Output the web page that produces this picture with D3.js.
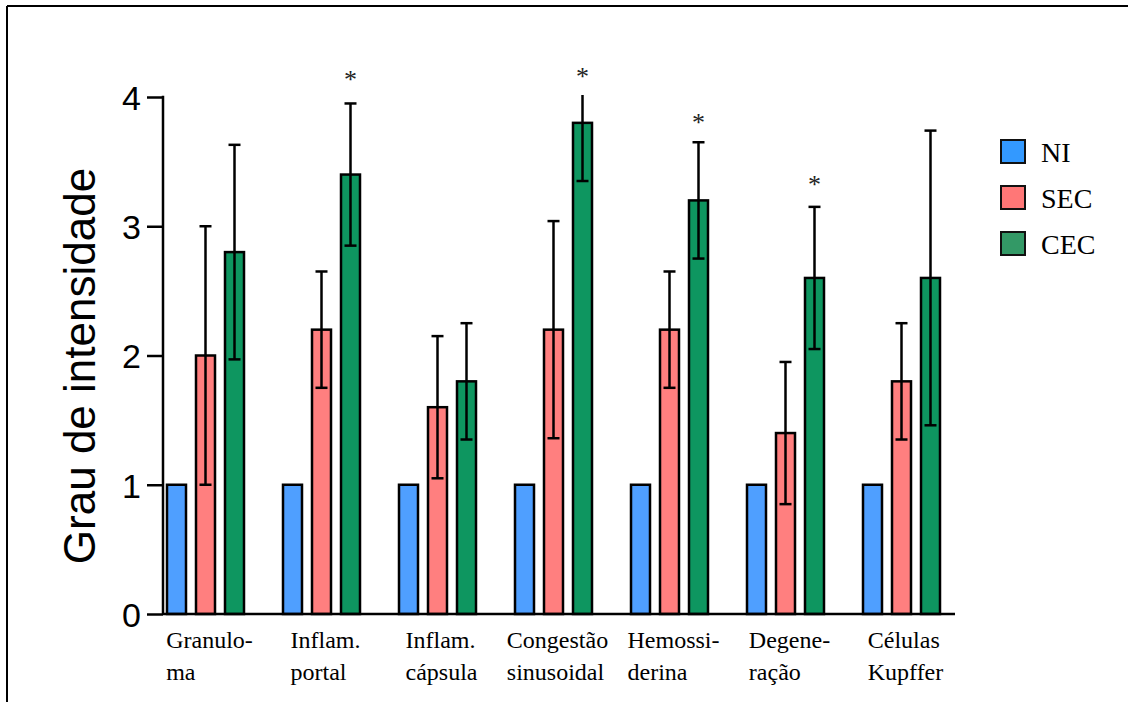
<!DOCTYPE html>
<html>
<head>
<meta charset="utf-8">
<script src="https://cdn.jsdelivr.net/npm/d3@7"></script>
<style>
  html, body { margin: 0; padding: 0; background: #fff; }
  svg { display: block; }
</style>
</head>
<body>
<svg id="chart" width="1128" height="702"></svg>
<script>
// ---- data ----
const categories = ["Granuloma", "Inflam. portal", "Inflam. cápsula", "Congestão sinusoidal", "Hemossiderina", "Degeneração", "Células Kupffer"];
const categoryLines = [["Granulo-", "ma"], ["Inflam.", "portal"], ["Inflam.", "cápsula"], ["Congestão", "sinusoidal"], ["Hemossi-", "derina"], ["Degene-", "ração"], ["Células", "Kupffer"]];
const series = ["NI", "SEC", "CEC"];
const valuesNI  = [1, 1, 1, 1, 1, 1, 1];
const valuesSEC = [2.0, 2.2, 1.6, 2.2, 2.2, 1.4, 1.8];
const valuesCEC = [2.8, 3.4, 1.8, 3.8, 3.2, 2.6, 2.6];
const errNI  = [0, 0, 0, 0, 0, 0, 0];
const errSEC = [1.0, 0.45, 0.55, 0.84, 0.45, 0.55, 0.45];
const errCEC = [0.83, 0.55, 0.45, 0.45, 0.45, 0.55, 1.14];
const asteriskCEC = [null, 4.17, null, 4.19, 3.84, 3.36, null];
const yTicks = [0, 1, 2, 3, 4];
const yLabel = "Grau de intensidade";

const barColors = { NI: "#4f9fff", SEC: "#ff7f7f", CEC: "#0e9660" };
const legendColors = { NI: "#3399ff", SEC: "#ff7777", CEC: "#339966" };

// ---- layout ----
const svg = d3.select("#chart");
const axisX = 163, baseY = 614, topY = 97;

const y = d3.scaleLinear().domain([0, 4]).range([baseY, topY]);
const x0 = d3.scaleBand().domain(categories).range([167, 940]).paddingInner(39 / 116).paddingOuter(0);
const x1 = d3.scaleBand().domain(series).range([0, x0.bandwidth()]).paddingInner(10 / 29).paddingOuter(0);

const valuesBy = { NI: valuesNI, SEC: valuesSEC, CEC: valuesCEC };
const errBy = { NI: errNI, SEC: errSEC, CEC: errCEC };

// frame (top & left lines)
svg.append("line").attr("x1", 7).attr("x2", 1128).attr("y1", 6).attr("y2", 6).attr("stroke", "#000").attr("stroke-width", 2);
svg.append("line").attr("x1", 7).attr("x2", 7).attr("y1", 6).attr("y2", 702).attr("stroke", "#000").attr("stroke-width", 2);

// clip for error bars (top of plot)
svg.append("defs").append("clipPath").attr("id", "plotclip")
  .append("rect").attr("x", 0).attr("y", y(4.015)).attr("width", 1128).attr("height", 702);

// bars
const flat = [];
categories.forEach((c, i) => series.forEach(s => flat.push({ c, i, s, v: valuesBy[s][i], e: errBy[s][i] })));

svg.append("g").selectAll("rect").data(flat).join("rect")
  .attr("x", d => x0(d.c) + x1(d.s))
  .attr("y", d => y(d.v))
  .attr("width", x1.bandwidth())
  .attr("height", d => y(0) - y(d.v))
  .attr("fill", d => barColors[d.s])
  .attr("stroke", "#000")
  .attr("stroke-width", 2.5);

// error bars
const eg = svg.append("g").attr("clip-path", "url(#plotclip)").attr("stroke", "#000").attr("stroke-width", 2.5);
flat.filter(d => d.e > 0).forEach(d => {
  const cx = x0(d.c) + x1(d.s) + x1.bandwidth() / 2;
  const yt = y(d.v + d.e), yb = y(d.v - d.e);
  eg.append("line").attr("x1", cx).attr("x2", cx).attr("y1", yt).attr("y2", yb);
  eg.append("line").attr("x1", cx - 6).attr("x2", cx + 6).attr("y1", yt).attr("y2", yt);
  eg.append("line").attr("x1", cx - 6).attr("x2", cx + 6).attr("y1", yb).attr("y2", yb);
});

// asterisks
svg.append("g").selectAll("text").data(categories.map((c, i) => ({ c, a: asteriskCEC[i] })).filter(d => d.a !== null)).join("text")
  .attr("x", d => x0(d.c) + x1("CEC") + x1.bandwidth() / 2)
  .attr("y", d => y(d.a) + 13)
  .attr("text-anchor", "middle")
  .attr("font-family", "Liberation Serif, Times New Roman, serif")
  .attr("font-size", 26)
  .attr("fill", "#222")
  .text("*");

// y axis
const yAxis = d3.axisLeft(y).tickValues(yTicks).tickSize(16).tickPadding(6).tickFormat(d3.format("d"));
const ya = svg.append("g").attr("transform", `translate(${axisX},0)`).call(yAxis);
ya.select(".domain").remove();
ya.selectAll(".tick line").attr("stroke", "#000").attr("stroke-width", 2.5);
ya.selectAll(".tick text").attr("font-family", "Liberation Sans, Arial, sans-serif").attr("font-size", 34).attr("fill", "#000").attr("dy", "0.36em");
svg.append("line").attr("x1", axisX).attr("x2", axisX).attr("y1", topY - 1.25).attr("y2", baseY).attr("stroke", "#000").attr("stroke-width", 2.5);
// x baseline
svg.append("line").attr("x1", axisX).attr("x2", 955).attr("y1", baseY).attr("y2", baseY).attr("stroke", "#000").attr("stroke-width", 2.5);

// y label
svg.append("text")
  .attr("transform", `translate(95,366) rotate(-90)`)
  .attr("text-anchor", "middle")
  .attr("font-family", "Liberation Sans, Arial, sans-serif")
  .attr("font-size", 44)
  .attr("fill", "#000")
  .text(yLabel);

// category labels
categories.forEach((c, i) => {
  const t = svg.append("text")
    .attr("font-family", "Liberation Serif, Times New Roman, serif")
    .attr("font-size", 24)
    .attr("fill", "#000");
  categoryLines[i].forEach((ln, k) => {
    t.append("tspan").attr("x", 0).attr("y", 648 + k * 32).text(ln);
  });
  let w = 0;
  t.selectAll("tspan").each(function () { w = Math.max(w, this.getComputedTextLength()); });
  const cx = x0(c) + x0.bandwidth() / 2 + 4;
  t.attr("transform", `translate(${cx - w / 2},0)`);
});

// legend
const lg = svg.append("g");
series.forEach((s, k) => {
  const yy = 140 + k * 46;
  lg.append("rect").attr("x", 1001).attr("y", yy).attr("width", 24).attr("height", 23)
    .attr("fill", legendColors[s]).attr("stroke", "#111").attr("stroke-width", 2);
  lg.append("text").attr("x", 1041).attr("y", yy + 22)
    .attr("font-family", "Liberation Serif, Times New Roman, serif")
    .attr("font-size", 28).attr("fill", "#000").text(s);
});
</script>
</body>
</html>
